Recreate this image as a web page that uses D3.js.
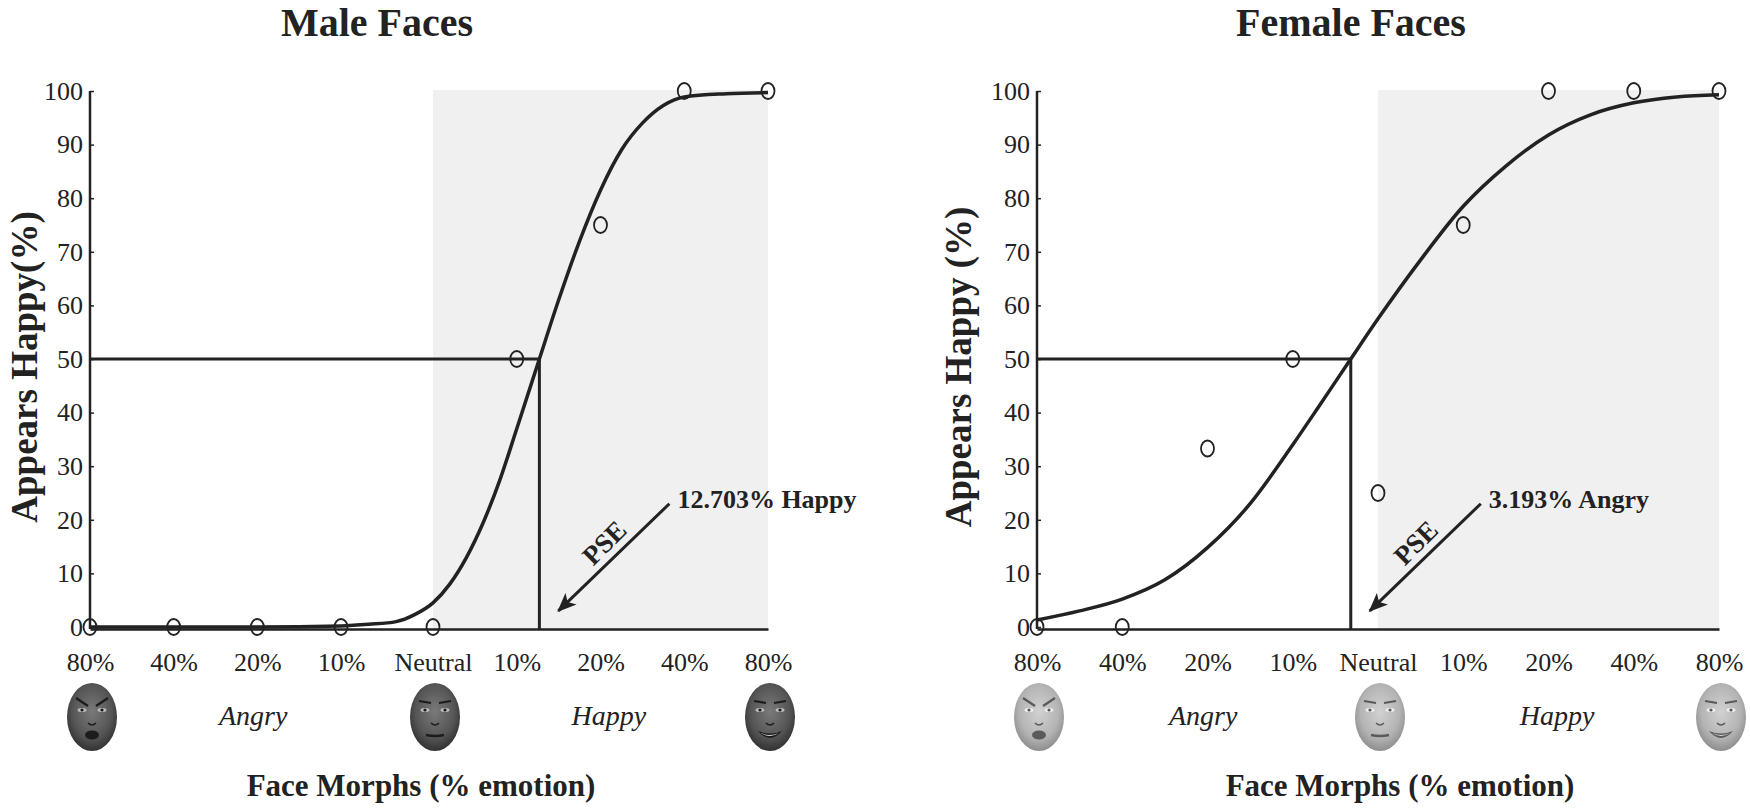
<!DOCTYPE html>
<html lang="en">

<head>
    <meta charset="UTF-8" />
    <title>Face Morphs - Appears Happy</title>
    <script src="https://d3js.org/d3.v7.min.js"></script>
    <style>
        body {
            margin: 0;
            background: #fff;
        }

        svg text {
            font-family: "Liberation Serif", "Times New Roman", serif;
            fill: #222;
        }
    </style>
</head>

<body>
    <script>

        // morph levels along the x axis (angry -> neutral -> happy), same for both panels
        var morphLabels = ["80%", "40%", "20%", "10%", "Neutral", "10%", "20%", "40%", "80%"];
        var yTicks = [0, 10, 20, 30, 40, 50, 60, 70, 80, 90, 100];

        // observed % of "appears happy" responses at each morph level
        var maleObserved = [0, 0, 0, 0, 0, 50, 75, 100, 100];
        var femaleObserved = [0, 0, 33.3, 50, 25, 75, 100, 100, 100];

        // fitted psychometric curves (morph index, %)
        var maleCurveX = [0, 1, 2, 3, 3.3, 3.6, 3.8, 4, 4.2, 4.4, 4.6, 4.8, 5, 5.27, 5.5, 5.75, 6, 6.25, 6.5, 6.75, 7, 7.5, 8];
        var maleCurveY = [0, 0, 0, 0.2, 0.5, 1, 2.3, 4.5, 8, 13, 19.5, 27.5, 37, 50, 61, 72, 81.5, 89, 94, 97.3, 98.9, 99.5, 99.7];
        var femaleCurveX = [0, 0.5, 1, 1.5, 2, 2.5, 3, 3.3, 3.68, 4, 4.5, 5, 5.5, 6, 6.5, 7, 7.5, 8];
        var femaleCurveY = [1.3, 3, 5.2, 8.8, 14.8, 23, 34, 41, 50, 57.5, 68.5, 78.5, 86, 91.8, 95.6, 97.8, 98.9, 99.3];

        // point of subjective equality (morph index) and its label
        var malePse = 5.2703;
        var femalePse = 3.6807;
        var pseLabels = ["12.703% Happy", "3.193% Angry"];

        var titles = ["Male Faces", "Female Faces"];
        var yTitles = ["Appears Happy(%)", "Appears Happy (%)"];
        var xTitle = "Face Morphs (% emotion)";

        var w = 1750;
        var h = 808;

        var svg = d3.select("body")
            .append("svg")
            .attr("width", w)
            .attr("height", h);

        // face shading
        var defs = svg.append("defs");
        [["male", "#7a7a7a", "#555", "#2e2e2e"], ["female", "#d2d2d2", "#b4b4b4", "#8a8a8a"]].forEach(function (s) {
            var grad = defs.append("radialGradient").attr("id", "skin-" + s[0])
                .attr("cx", "50%").attr("cy", "42%").attr("r", "60%");
            grad.append("stop").attr("offset", "0%").attr("stop-color", s[1]);
            grad.append("stop").attr("offset", "65%").attr("stop-color", s[2]);
            grad.append("stop").attr("offset", "100%").attr("stop-color", s[3]);
        });

        defs.append("marker")
            .attr("id", "arrowhead")
            .attr("viewBox", "0 0 12 10")
            .attr("refX", 11)
            .attr("refY", 5)
            .attr("markerUnits", "userSpaceOnUse")
            .attr("markerWidth", 20)
            .attr("markerHeight", 16)
            .attr("orient", "auto")
            .append("path")
            .attr("d", "M0,0 L12,5 L0,10 L3,5 Z")
            .attr("fill", "#222");

        var y = d3.scaleLinear()
            .domain([0, 100])
            .range([627, 91]);

        var ink = "#222";

        function drawFace(g, cx, cy, kind, skin) {
            var dark = skin === "male" ? "#1c1c1c" : "#5a5a5a";
            var f = g.append("g").attr("transform", `translate(${cx},${cy})`);
            f.append("ellipse")
                .attr("rx", 25)
                .attr("ry", 34)
                .attr("fill", `url(#skin-${skin})`);
            var tilt = kind === "angry" ? 3 : 0;
            [-1, 1].forEach(function (s) {
                f.append("path")
                    .attr("d", `M${s * 4},${-14 + tilt} L${s * 16},${-16 - tilt}`)
                    .attr("stroke", dark).attr("stroke-width", 2.2).attr("fill", "none");
                f.append("ellipse")
                    .attr("cx", s * 10).attr("cy", -7)
                    .attr("rx", 4.5).attr("ry", 2)
                    .attr("fill", skin === "male" ? "#bbb" : "#eee");
                f.append("circle")
                    .attr("cx", s * 10).attr("cy", -7).attr("r", 1.6)
                    .attr("fill", dark);
            });
            f.append("path")
                .attr("d", "M-4,6 Q0,10 4,6")
                .attr("stroke", dark).attr("stroke-width", 1.5).attr("fill", "none");
            if (kind === "angry") {
                f.append("ellipse").attr("cy", 18).attr("rx", 7).attr("ry", 4.5).attr("fill", dark);
            } else if (kind === "neutral") {
                f.append("path").attr("d", "M-9,18 Q0,20 9,18")
                    .attr("stroke", dark).attr("stroke-width", 2.4).attr("fill", "none");
            } else {
                f.append("path").attr("d", "M-12,14 Q0,28 12,14 Q0,19 -12,14 Z").attr("fill", dark);
                f.append("path").attr("d", "M-9,16 Q0,20 9,16 Q0,22 -9,16 Z").attr("fill", "#ddd");
            }
        }

        function drawPanel(p) {
            var g = svg.append("g");
            var x = p.x;
            var axisY = y(0) + 2;

            // shaded "happy" half
            g.append("rect")
                .attr("x", x(4))
                .attr("y", y(100) - 1)
                .attr("width", x(8) - x(4))
                .attr("height", axisY - y(100) + 1)
                .attr("fill", "#f0f0f0");

            // Y axis
            var ya = g.append("g")
                .attr("transform", `translate(${x(0)},0)`)
                .call(d3.axisLeft(y).tickValues(yTicks).tickSize(-4).tickSizeOuter(0).tickPadding(7))
                .attr("color", ink)
                .attr("font-size", 26);
            ya.select(".domain").remove();
            ya.selectAll(".tick line").attr("stroke-width", 1.5);
            g.append("line")
                .attr("x1", x(0)).attr("x2", x(0))
                .attr("y1", y(100)).attr("y2", axisY)
                .attr("stroke", ink).attr("stroke-width", 2.5);

            // X axis
            var xa = g.append("g")
                .attr("transform", `translate(0,${axisY})`)
                .call(d3.axisBottom(x)
                    .tickValues(d3.range(morphLabels.length))
                    .tickFormat(function (i) { return morphLabels[i]; })
                    .tickSize(0)
                    .tickPadding(24))
                .attr("color", ink)
                .attr("font-size", 26);
            xa.select(".domain").attr("stroke-width", 2.5);

            // PSE reference lines
            g.append("line")
                .attr("x1", x(0)).attr("x2", x(p.pse))
                .attr("y1", y(50)).attr("y2", y(50))
                .attr("stroke", ink).attr("stroke-width", 3);
            g.append("line")
                .attr("x1", x(p.pse)).attr("x2", x(p.pse))
                .attr("y1", y(50)).attr("y2", axisY)
                .attr("stroke", ink).attr("stroke-width", 3);

            // fitted curve
            g.append("path")
                .datum(p.curveX.map(function (d, i) { return [d, p.curveY[i]]; }))
                .attr("fill", "none")
                .attr("stroke", ink)
                .attr("stroke-width", 3.5)
                .attr("d", d3.line()
                    .x(function (d) { return x(d[0]); })
                    .y(function (d) { return y(d[1]); })
                    .curve(d3.curveMonotoneX));

            // observed points
            g.selectAll(".dot")
                .data(p.observed)
                .enter()
                .append("ellipse")
                .attr("class", "dot")
                .attr("cx", function (d, i) { return x(i); })
                .attr("cy", function (d) { return y(d); })
                .attr("rx", 6.5)
                .attr("ry", 8)
                .attr("fill", "none")
                .attr("stroke", ink)
                .attr("stroke-width", 1.8);

            // PSE arrow + labels
            var px = x(p.pse);
            g.append("line")
                .attr("x1", px + 130).attr("y1", y(23))
                .attr("x2", px + 19).attr("y2", y(3))
                .attr("stroke", ink).attr("stroke-width", 3)
                .attr("marker-end", "url(#arrowhead)");
            g.append("text")
                .attr("x", px + 138)
                .attr("y", y(23) + 4)
                .attr("font-size", 26)
                .attr("font-weight", "bold")
                .text(p.pseLabel);
            g.append("text")
                .attr("transform", `translate(${px + 65},${y(15.7)}) rotate(-45)`)
                .attr("text-anchor", "middle")
                .attr("dominant-baseline", "central")
                .attr("font-size", 27)
                .attr("font-weight", "bold")
                .text("PSE");

            // titles
            g.append("text")
                .attr("x", p.titleX)
                .attr("y", 36)
                .attr("text-anchor", "middle")
                .attr("font-size", 40)
                .attr("font-weight", "bold")
                .text(p.title);
            g.append("text")
                .attr("transform", `translate(${p.yTitleX},367) rotate(-90)`)
                .attr("text-anchor", "middle")
                .attr("font-size", 37)
                .attr("font-weight", "bold")
                .text(p.yTitle);
            g.append("text")
                .attr("x", p.xTitleX)
                .attr("y", 796)
                .attr("text-anchor", "middle")
                .attr("font-size", 31)
                .attr("font-weight", "bold")
                .text(xTitle);

            // emotion direction labels and face thumbnails
            g.append("text")
                .attr("x", x(1.95)).attr("y", 725)
                .attr("text-anchor", "middle")
                .attr("font-size", 28)
                .attr("font-style", "italic")
                .text("Angry");
            g.append("text")
                .attr("x", x(6.1)).attr("y", 725)
                .attr("text-anchor", "middle")
                .attr("font-size", 28)
                .attr("font-style", "italic")
                .text("Happy");
            [[0, "angry"], [4, "neutral"], [8, "happy"]].forEach(function (f) {
                drawFace(g, x(f[0]) + 2, 717, f[1], p.skin);
            });
        }

        drawPanel({
            x: d3.scaleLinear().domain([0, 3, 4, 8]).range([90, 341, 433, 768]),
            observed: maleObserved,
            curveX: maleCurveX,
            curveY: maleCurveY,
            pse: malePse,
            pseLabel: pseLabels[0],
            title: titles[0],
            yTitle: yTitles[0],
            titleX: 377,
            yTitleX: 37,
            xTitleX: 421,
            skin: "male"
        });

        drawPanel({
            x: d3.scaleLinear().domain([0, 8]).range([1037, 1719]),
            observed: femaleObserved,
            curveX: femaleCurveX,
            curveY: femaleCurveY,
            pse: femalePse,
            pseLabel: pseLabels[1],
            title: titles[1],
            yTitle: yTitles[1],
            titleX: 1351,
            yTitleX: 971,
            xTitleX: 1400,
            skin: "female"
        });

    </script>
</body>

</html>
